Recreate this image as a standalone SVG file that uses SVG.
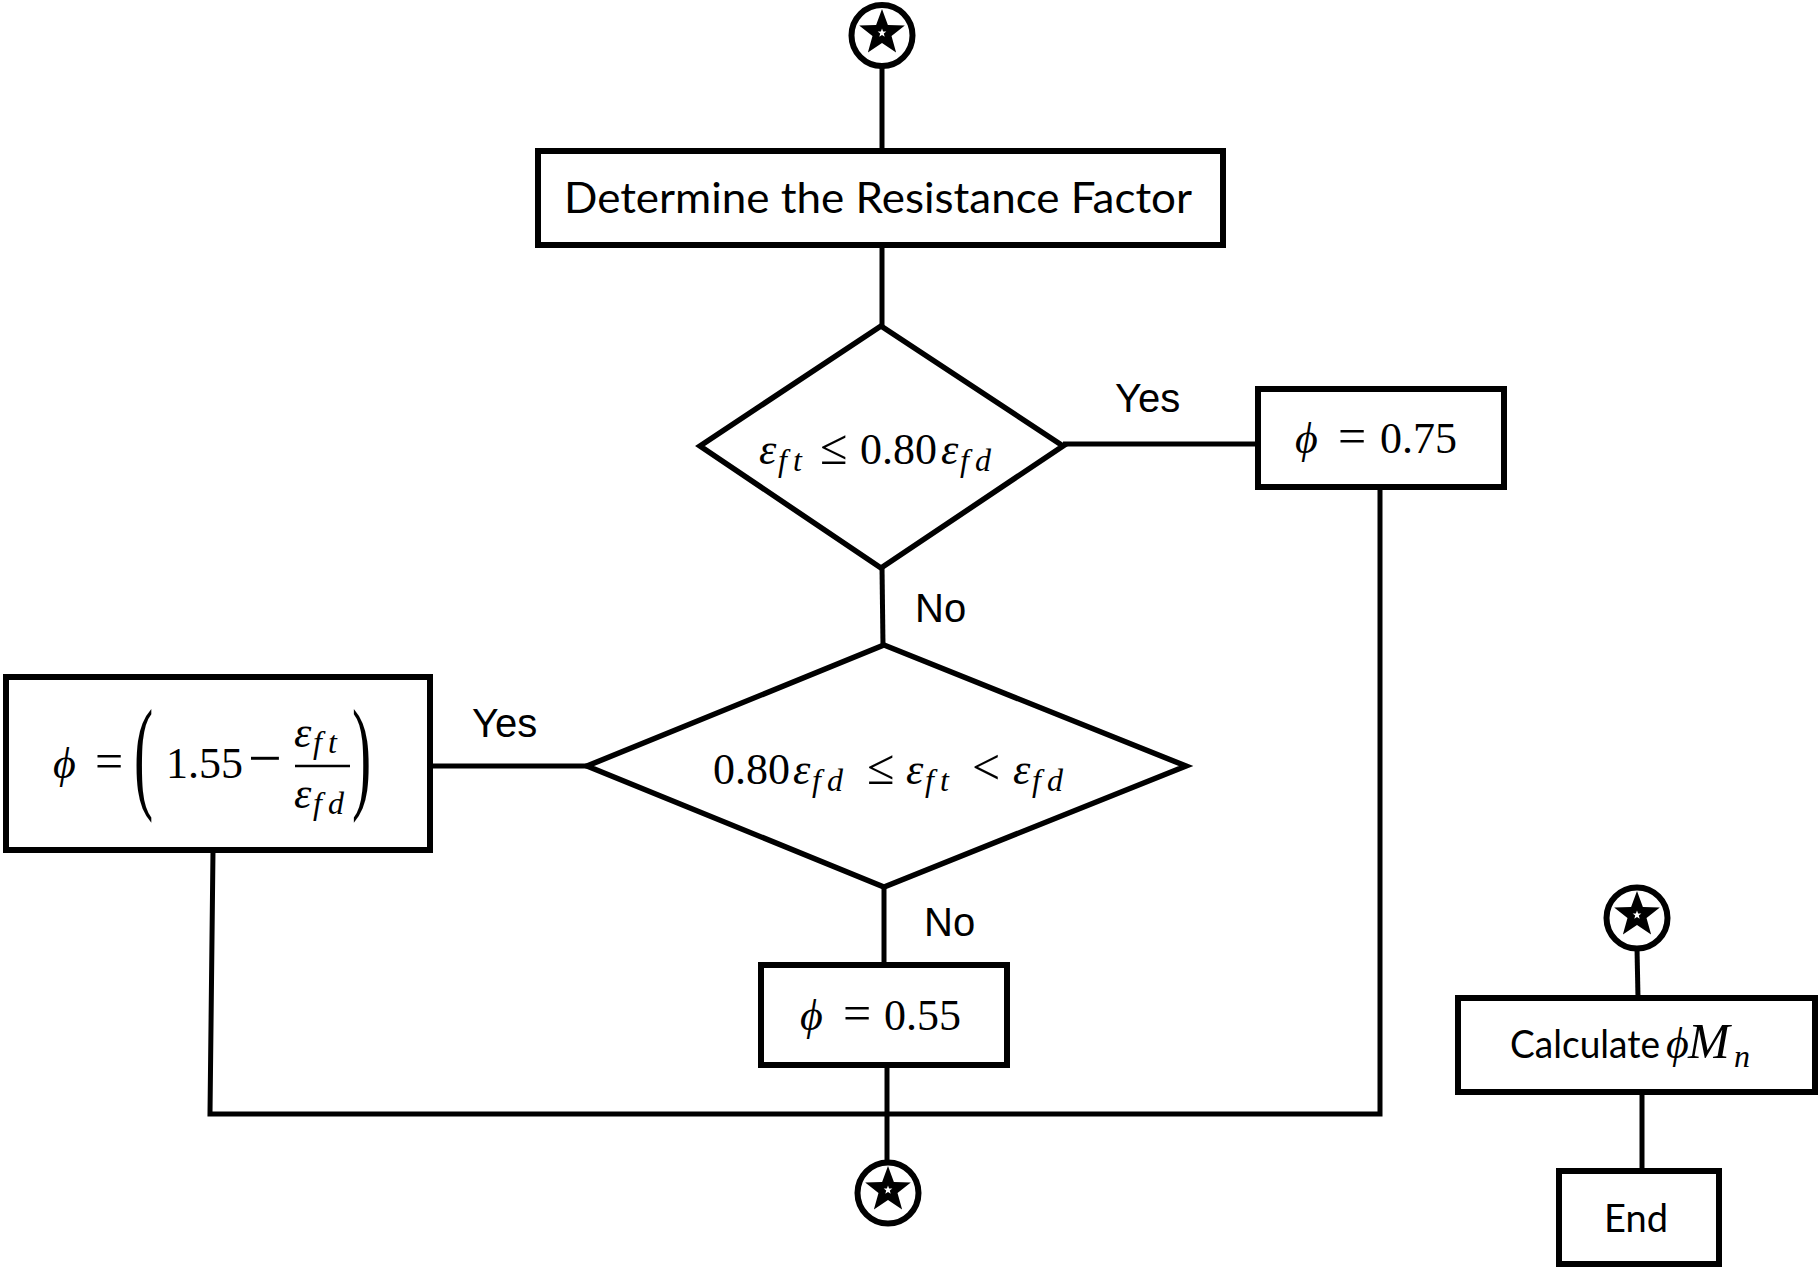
<svg xmlns="http://www.w3.org/2000/svg" width="1818" height="1267" viewBox="0 0 1818 1267">
<style>
.box{fill:#fff;stroke:#000;stroke-width:6}
.dia{fill:#fff;stroke:#000;stroke-width:5.5;stroke-linejoin:miter}
.con{fill:none;stroke:#000;stroke-width:5}
.circ{fill:#fff;stroke:#000;stroke-width:6}
.lbl{font-family:"Liberation Sans",Arial,sans-serif;font-size:40px;fill:#000}
.cal{font-family:Lato,"Open Sans",sans-serif;fill:#000}
.m{font-family:"Liberation Serif","Times New Roman",serif;font-size:44px;fill:#000}
.i{font-style:italic}
.sub{font-style:italic;font-size:32px}
.op{font-size:50px}
.big{font-size:80px}
</style>
<defs>
<polygon id="star" points="0,-24 5.88,-8.09 22.83,-7.42 9.51,3.09 14.11,19.42 0,10 -14.11,19.42 -9.51,3.09 -22.83,-7.42 -5.88,-8.09"/>
</defs>
<g id="connectors">
<line class="con" x1="882" y1="66" x2="882" y2="150"/>
<line class="con" x1="882" y1="245" x2="882" y2="327"/>
<line class="con" x1="1063" y1="444" x2="1258" y2="444"/>
<line class="con" x1="882" y1="567" x2="883" y2="646"/>
<line class="con" x1="587" y1="766" x2="430" y2="766"/>
<line class="con" x1="884" y1="886" x2="884" y2="965"/>
<polyline class="con" points="1380,487 1380,1114 210,1114 213,850"/>
<line class="con" x1="887" y1="1065" x2="887" y2="1163"/>
<line class="con" x1="1637" y1="948" x2="1638" y2="998"/>
<line class="con" x1="1642" y1="1092" x2="1642" y2="1171"/>
</g>
<g id="start-connector">
<circle class="circ" cx="882" cy="35.5" r="30.5"/>
<use href="#star" x="882" y="33"/>
<use href="#star" transform="translate(882,33) scale(0.19)" fill="#fff"/>
</g>
<g id="box-determine">
<rect class="box" x="538" y="151" width="685" height="94"/>
<text class="cal" x="878" y="213" font-size="42" text-anchor="middle" textLength="628" lengthAdjust="spacingAndGlyphs">Determine the Resistance Factor</text>
</g>
<g id="decision-1">
<polygon class="dia" points="881,326 1063,446 881,568 700,446"/>
<text class="m"><tspan class="i" x="759" y="464">ε</tspan><tspan class="sub" x="778" y="471">f</tspan><tspan class="sub" x="793" y="471">t</tspan><tspan class="op" x="820" y="464">≤</tspan><tspan x="860" y="464">0.80</tspan><tspan class="i" x="941" y="464">ε</tspan><tspan class="sub" x="960" y="471">f</tspan><tspan class="sub" x="975" y="471">d</tspan></text>
</g>
<text class="lbl" x="1115" y="412">Yes</text>
<g id="box-075">
<rect class="box" x="1258" y="389" width="246" height="98"/>
<text class="m"><tspan class="i" x="1295" y="453">ϕ</tspan><tspan class="op" x="1338" y="453">=</tspan><tspan x="1380" y="453">0.75</tspan></text>
</g>
<text class="lbl" x="915" y="622">No</text>
<g id="decision-2">
<polygon class="dia" points="884,645 1186,766 884,887 587,766"/>
<text class="m"><tspan x="713" y="784">0.80</tspan><tspan class="i" x="793" y="784">ε</tspan><tspan class="sub" x="812" y="791">f</tspan><tspan class="sub" x="827" y="791">d</tspan><tspan class="op" x="867" y="784">≤</tspan><tspan class="i" x="906" y="784">ε</tspan><tspan class="sub" x="925" y="791">f</tspan><tspan class="sub" x="940" y="791">t</tspan><tspan class="op" x="972" y="784">&lt;</tspan><tspan class="i" x="1013" y="784">ε</tspan><tspan class="sub" x="1032" y="791">f</tspan><tspan class="sub" x="1047" y="791">d</tspan></text>
</g>
<text class="lbl" x="472" y="737">Yes</text>
<g id="box-formula">
<rect class="box" x="6" y="677" width="424" height="173"/>
<text class="m"><tspan class="i" x="53" y="778">ϕ</tspan><tspan class="op" x="95" y="778">=</tspan><tspan x="166" y="778">1.55</tspan><tspan x="248" y="778" style="font-size:60px">−</tspan></text>
<text class="m big" transform="translate(134,796) scale(0.72,1.55)">(</text>
<text class="m big" transform="translate(352,796) scale(0.72,1.55)">)</text>
<line x1="295" y1="766" x2="350" y2="766" stroke="#000" stroke-width="2.5"/>
<text class="m"><tspan class="i" x="294" y="747">ε</tspan><tspan class="sub" x="313" y="753">f</tspan><tspan class="sub" x="328" y="753">t</tspan></text>
<text class="m"><tspan class="i" x="294" y="808">ε</tspan><tspan class="sub" x="313" y="814">f</tspan><tspan class="sub" x="328" y="814">d</tspan></text>
</g>
<text class="lbl" x="924" y="936">No</text>
<g id="box-055">
<rect class="box" x="761" y="965" width="246" height="100"/>
<text class="m"><tspan class="i" x="800" y="1030">ϕ</tspan><tspan class="op" x="843" y="1030">=</tspan><tspan x="884" y="1030">0.55</tspan></text>
</g>
<g id="end-connector">
<circle class="circ" cx="888" cy="1193" r="30.5"/>
<use href="#star" x="888" y="1190"/>
<use href="#star" transform="translate(888,1190) scale(0.19)" fill="#fff"/>
</g>
<g id="resume-connector">
<circle class="circ" cx="1637" cy="918" r="30.5"/>
<use href="#star" x="1637" y="915"/>
<use href="#star" transform="translate(1637,915) scale(0.19)" fill="#fff"/>
</g>
<g id="box-calculate">
<rect class="box" x="1458" y="998" width="357" height="94"/>
<text class="cal" x="1510" y="1058" font-size="38" textLength="150" lengthAdjust="spacingAndGlyphs">Calculate</text>
<text class="m"><tspan class="i" x="1666" y="1058">ϕ</tspan><tspan class="i" x="1688" y="1058" style="font-size:50px">M</tspan><tspan class="sub" x="1734" y="1067">n</tspan></text>
</g>
<g id="box-end">
<rect class="box" x="1559" y="1171" width="160" height="93"/>
<text class="cal" x="1636" y="1232" font-size="38" text-anchor="middle">End</text>
</g>
</svg>
